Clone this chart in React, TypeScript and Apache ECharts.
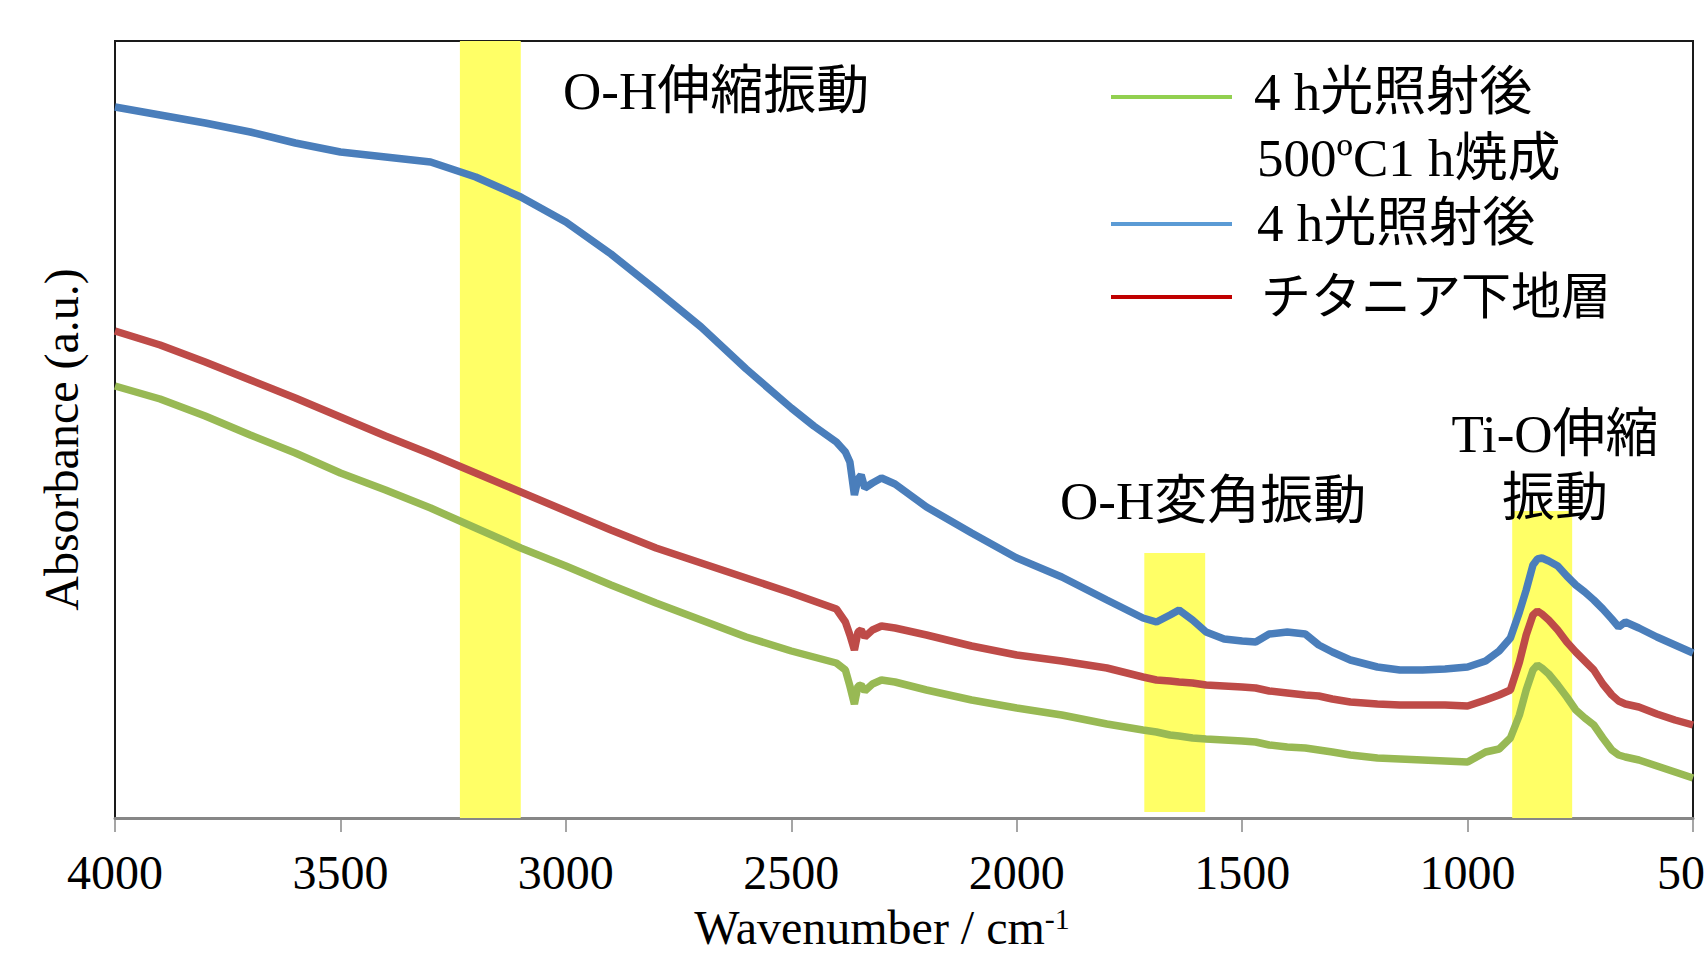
import React, { useEffect, useRef } from "react";
import * as echarts from "echarts";

// Wavenumber (cm-1) sampling positions
const wavenumbers = [
  4000, 3900, 3800, 3700, 3600, 3500, 3400, 3300, 3200, 3100, 3000, 2900, 2800, 2700, 2600, 2500,
  2450, 2400, 2380, 2370, 2360, 2352, 2345, 2337, 2320, 2300, 2270, 2200, 2100, 2000, 1900, 1800,
  1720, 1690, 1660, 1640, 1610, 1580, 1540, 1500, 1470, 1440, 1400, 1360, 1330, 1300, 1260, 1200,
  1150, 1100, 1050, 1000, 960, 930, 905, 885, 870, 855, 845, 835, 820, 800, 780, 760, 740, 720,
  700, 680, 665, 650, 620, 580, 540, 500,
];

// 4 h光照射後 (blue)
const after4h = [
  711, 703, 695, 686, 675, 666, 661, 656, 641, 621, 596, 564, 528, 491, 449, 410,
  392, 376, 366, 356, 323, 339, 343, 330, 335, 340, 334, 311, 285, 260, 241, 218,
  200, 196, 203, 208, 198, 186, 179, 177, 176, 184, 186, 184, 173, 166, 158, 151,
  148, 148, 149, 151, 157, 167, 180, 206, 228, 253, 259, 260, 257, 252, 242, 233, 226, 218,
  209, 199, 191, 196, 190, 181, 173, 165,
];

// チタニア下地層 (red)
const titania = [
  487, 473, 456, 438, 420, 401, 382, 364, 345, 326, 307, 288, 270, 255, 240, 225,
  217, 209, 196, 183, 168, 186, 188, 181, 188, 192, 190, 183, 172, 163, 157, 150,
  141, 138, 137, 136, 135, 133, 132, 131, 130, 127, 125, 123, 122, 119, 116, 114,
  113, 113, 113, 112, 118, 123, 128, 156, 183, 203, 207, 204, 198, 188, 176, 166, 157, 148,
  134, 123, 117, 114, 111, 104, 98, 93,
];

// 4 h光照射後 500ºC1 h焼成 (green)
const calcined = [
  432, 419, 402, 383, 365, 345, 328, 310, 290, 270, 252, 233, 215, 198, 181, 167,
  161, 155, 148, 132, 114, 132, 133, 127, 134, 138, 136, 128, 118, 110, 103, 94,
  88, 86, 83, 82, 80, 79, 78, 77, 76, 73, 71, 70, 68, 66, 63, 60,
  59, 58, 57, 56, 66, 69, 80, 103, 128, 148, 153, 150, 144, 133, 121, 108, 100, 93,
  80, 68, 63, 61, 58, 52, 46, 40,
];

// Highlighted bands: [from cm-1, to cm-1, absorbance bottom, absorbance top]
const bands = [
  [3235, 3100, 0, 777],
  [1717, 1582, 6, 265],
  [901, 768, 0, 307],
];

const xTicks = { min: 500, max: 4000, interval: 500 };
const Y_MAX = 777;

const FONT = '"Liberation Serif", "Times New Roman", "Noto Sans CJK JP", serif';

const seriesNames = ["4 h光照射後", "チタニア下地層", "4 h光照射後 500ºC1 h焼成"];

export default function App() {
  const ref = useRef<HTMLDivElement>(null);

  useEffect(() => {
    if (!ref.current) return;
    const chart = echarts.init(ref.current, null, { renderer: "svg" });
    const pairs = (vals: number[]) => wavenumbers.map((w, i) => [w, vals[i]]);

    const textStyleBase = { fontFamily: FONT, fontSize: 53, fill: "#000" };

    chart.setOption({
      animation: false,
      backgroundColor: "#fff",
      grid: {
        left: 115,
        right: 12,
        top: 41,
        bottom: 137,
        show: true,
        borderColor: "#1a1a1a",
        borderWidth: 2,
        containLabel: false,
        outerBoundsMode: "none",
      },
      xAxis: {
        type: "value",
        inverse: true,
        min: xTicks.min,
        max: xTicks.max,
        interval: xTicks.interval,
        axisLine: { show: true, onZero: false, lineStyle: { color: "#878787", width: 3 } },
        axisTick: { show: true, length: 14, lineStyle: { color: "#878787", width: 1.5 } },
        splitLine: { show: false },
        axisLabel: {
          color: "#000",
          fontFamily: FONT,
          fontSize: 48,
          margin: 30,
          formatter: (v: number) => String(v),
        },
        name: "{n|Wavenumber / cm}{s|-1}",
        nameLocation: "middle",
        nameGap: 85,
        nameTextStyle: {
          padding: [0, 44, 0, 0],
          rich: {
            n: { fontFamily: FONT, fontSize: 48, color: "#000" },
            s: { fontFamily: FONT, fontSize: 30, color: "#000", verticalAlign: "top" },
          },
        },
      },
      yAxis: {
        type: "value",
        min: 0,
        max: Y_MAX,
        axisLine: { show: false },
        axisTick: { show: false },
        axisLabel: { show: false },
        splitLine: { show: false },
        name: "Absorbance (a.u.)",
        nameLocation: "middle",
        nameRotate: 90,
        nameGap: 30,
        nameTextStyle: { fontFamily: FONT, fontSize: 48, color: "#000", padding: [0, 20, 0, 0] },
      },
      series: [
        {
          type: "line",
          name: "bands",
          data: [],
          z: 1,
          silent: true,
          markArea: {
            silent: true,
            itemStyle: { color: "#FFFF66", opacity: 1 },
            data: bands.map((b) => [
              { xAxis: b[0], yAxis: b[2] },
              { xAxis: b[1], yAxis: b[3] },
            ]),
          },
        },
        {
          type: "line",
          name: seriesNames[0],
          data: pairs(after4h),
          showSymbol: false,
          z: 3,
          lineStyle: { color: "#4A7EBB", width: 7.5 },
          itemStyle: { color: "#4A7EBB" },
        },
        {
          type: "line",
          name: seriesNames[1],
          data: pairs(titania),
          showSymbol: false,
          z: 3,
          lineStyle: { color: "#BE4B48", width: 7.5 },
          itemStyle: { color: "#BE4B48" },
        },
        {
          type: "line",
          name: seriesNames[2],
          data: pairs(calcined),
          showSymbol: false,
          z: 3,
          lineStyle: { color: "#98B954", width: 7.5 },
          itemStyle: { color: "#98B954" },
        },
      ],
      graphic: [
        // annotations
        { type: "text", x: 563, y: 91, z: 10, style: { ...textStyleBase, text: "O-H伸縮振動", align: "left", verticalAlign: "middle" } },
        { type: "text", x: 1060, y: 501, z: 10, style: { ...textStyleBase, text: "O-H変角振動", align: "left", verticalAlign: "middle" } },
        { type: "text", x: 1555, y: 434, z: 10, style: { ...textStyleBase, text: "Ti-O伸縮", align: "center", verticalAlign: "middle" } },
        { type: "text", x: 1555, y: 498, z: 10, style: { ...textStyleBase, text: "振動", align: "center", verticalAlign: "middle" } },
        // legend
        { type: "line", z: 10, shape: { x1: 1111, y1: 97, x2: 1232, y2: 97 }, style: { stroke: "#92D050", lineWidth: 4 } },
        { type: "text", x: 1254, y: 92, z: 10, style: { ...textStyleBase, text: "4 h光照射後", align: "left", verticalAlign: "middle" } },
        { type: "text", x: 1257, y: 158, z: 10, style: { ...textStyleBase, text: "500ºC1 h焼成", align: "left", verticalAlign: "middle" } },
        { type: "line", z: 10, shape: { x1: 1111, y1: 224, x2: 1232, y2: 224 }, style: { stroke: "#5B9BD5", lineWidth: 4 } },
        { type: "text", x: 1257, y: 223, z: 10, style: { ...textStyleBase, text: "4 h光照射後", align: "left", verticalAlign: "middle" } },
        { type: "line", z: 10, shape: { x1: 1111, y1: 297, x2: 1232, y2: 297 }, style: { stroke: "#C00000", lineWidth: 4 } },
        { type: "text", x: 1261, y: 297, z: 10, style: { ...textStyleBase, fontSize: 50, text: "チタニア下地層", align: "left", verticalAlign: "middle" } },
      ],
    });

    return () => chart.dispose();
  }, []);

  return (
    <div
      ref={ref}
      style={{ position: "absolute", left: 0, top: 0, width: 1705, height: 955 }}
    />
  );
}
